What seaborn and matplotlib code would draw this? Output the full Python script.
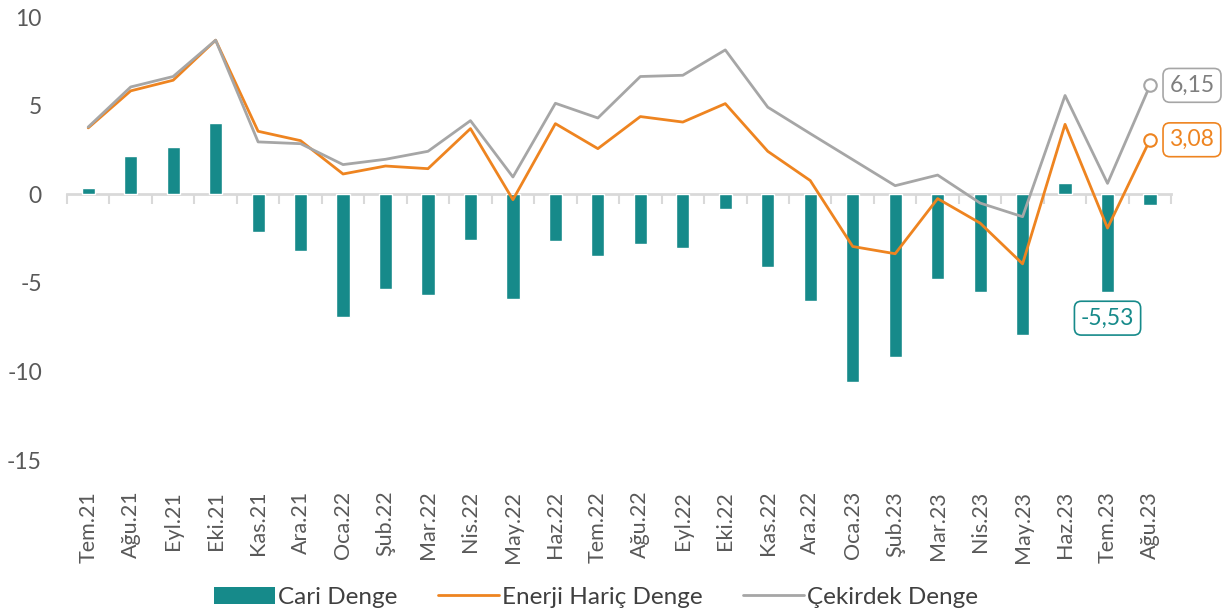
import matplotlib
matplotlib.use("Agg")
import matplotlib.pyplot as plt
import numpy as np
import pandas as pd
import seaborn as sns
from matplotlib.lines import Line2D
from matplotlib.patches import Patch

months = [
    "Tem.21", "Ağu.21", "Eyl.21", "Eki.21", "Kas.21", "Ara.21",
    "Oca.22", "Şub.22", "Mar.22", "Nis.22", "May.22", "Haz.22",
    "Tem.22", "Ağu.22", "Eyl.22", "Eki.22", "Kas.22", "Ara.22",
    "Oca.23", "Şub.23", "Mar.23", "Nis.23", "May.23", "Haz.23",
    "Tem.23", "Ağu.23",
]
cari_denge = [
    0.35, 2.15, 2.70, 4.03, -2.13, -3.18,
    -6.92, -5.35, -5.67, -2.58, -5.89, -2.65,
    -3.48, -2.80, -3.03, -0.85, -4.09, -6.02,
    -10.56, -9.20, -4.76, -5.52, -7.93, 0.64,
    -5.53, -0.62,
]
enerji_haric = [
    3.75, 5.84, 6.44, 8.70, 3.56, 3.03,
    1.15, 1.60, 1.45, 3.71, -0.30, 3.99,
    2.58, 4.39, 4.08, 5.12, 2.43, 0.78,
    -2.94, -3.35, -0.24, -1.62, -3.92, 3.95,
    -1.90, 3.08,
]
cekirdek = [
    3.80, 6.06, 6.65, 8.70, 2.96, 2.86,
    1.68, 1.98, 2.43, 4.16, 0.98, 5.14,
    4.31, 6.65, 6.72, 8.15, 4.92, 3.43,
    1.96, 0.49, 1.09, -0.49, -1.26, 5.58,
    0.62, 6.15,
]

TEAL = "#168A8A"
ORANGE = "#EE8420"
GRAY = "#A6A6A6"
TXT = "#595959"
ZERO = "#D9D9D9"

sns.set_theme(style="white")
plt.rcParams["font.family"] = ["Lato", "DejaVu Sans"]

df = pd.DataFrame({
    "ay": months,
    "pos": np.arange(len(months)),
    "cari": cari_denge,
    "enerji": enerji_haric,
    "cekirdek": cekirdek,
})

fig = plt.figure(figsize=(12.29, 6.12), dpi=100)
ax = fig.add_axes([0.0545, 0.248, 0.8985, 0.724])

sns.barplot(data=df, x="pos", y="cari", color=TEAL, width=0.31,
            saturation=1, native_scale=True, ax=ax, zorder=2)
sns.lineplot(data=df, x="pos", y="enerji", color=ORANGE, linewidth=2.0,
             ax=ax, zorder=3)
sns.lineplot(data=df, x="pos", y="cekirdek", color=GRAY, linewidth=2.0,
             ax=ax, zorder=3)

ymin, ymax = -15, 10
ax.set_ylim(ymin, ymax)
ax.set_xlim(-0.5, len(months) - 0.5)
ax.set_yticks([-15, -10, -5, 0, 5, 10])
ax.set_yticklabels(["-15", "-10", "-5", "0", "5", "10"])
ax.set_xticks(df["pos"])
ax.set_xticklabels(months, rotation=90)
ax.tick_params(axis="x", length=0, pad=22, labelsize=15.5, labelcolor=TXT)
ax.tick_params(axis="y", length=0, pad=18, labelsize=16.5, labelcolor=TXT)
ax.set_xlabel("")
ax.set_ylabel("")
for s in ax.spines.values():
    s.set_visible(False)

# zero line with category separator ticks
zero_loc = (0 - ymin) / (ymax - ymin)
sec = ax.secondary_xaxis(zero_loc)
sec.set_alignment("bottom")
sec.set_xticks(np.arange(-0.5, len(months), 1.0))
sec.tick_params(axis="x", length=7, width=1.5, color=ZERO, direction="out",
                labelbottom=False, labeltop=False)
sec.spines["bottom"].set_color(ZERO)
sec.spines["bottom"].set_linewidth(2)
sec.spines["top"].set_visible(False)

# end-point markers and value labels
last = len(months) - 1
for vals, col in [(cekirdek, GRAY), (enerji_haric, ORANGE)]:
    ax.plot(last, vals[last], marker="o", ms=9, mfc="white", mec=col,
            mew=1.5, zorder=5, clip_on=False)

box = "round,pad=0.28,rounding_size=0.3"
ax.annotate(f"{cekirdek[last]:.2f}".replace(".", ","),
            xy=(last, cekirdek[last]), xytext=(14, 0),
            textcoords="offset points", ha="left", va="center",
            fontsize=16.5, color="#7F7F7F", annotation_clip=False,
            bbox=dict(boxstyle=box, fc="white", ec=GRAY, lw=1.2))
ax.annotate(f"{enerji_haric[last]:.2f}".replace(".", ","),
            xy=(last, enerji_haric[last]), xytext=(14, 0),
            textcoords="offset points", ha="left", va="center",
            fontsize=16.5, color=ORANGE, annotation_clip=False,
            bbox=dict(boxstyle=box, fc="white", ec=ORANGE, lw=1.2))
ax.annotate(f"{cari_denge[last - 1]:.2f}".replace(".", ","),
            xy=(last - 1, cari_denge[last - 1]), xytext=(0, -11),
            textcoords="offset points", ha="center", va="top",
            fontsize=16.5, color=TEAL, annotation_clip=False,
            bbox=dict(boxstyle=box, fc="white", ec=TEAL, lw=1.2))

handles = [
    Patch(facecolor=TEAL, edgecolor="none", label="Cari Denge"),
    Line2D([0], [0], color=ORANGE, lw=2.0, label="Enerji Hariç Denge"),
    Line2D([0], [0], color=GRAY, lw=2.0, label="Çekirdek Denge"),
]
leg = fig.legend(handles=handles, loc="center", bbox_to_anchor=(0.485, 0.024),
                 ncol=3, frameon=False, fontsize=17.5, handlelength=2.5,
                 handleheight=0.7, handletextpad=0.1, columnspacing=1.7)
for t in leg.get_texts():
    t.set_color("#404040")

fig.savefig("out.png", dpi=100)
